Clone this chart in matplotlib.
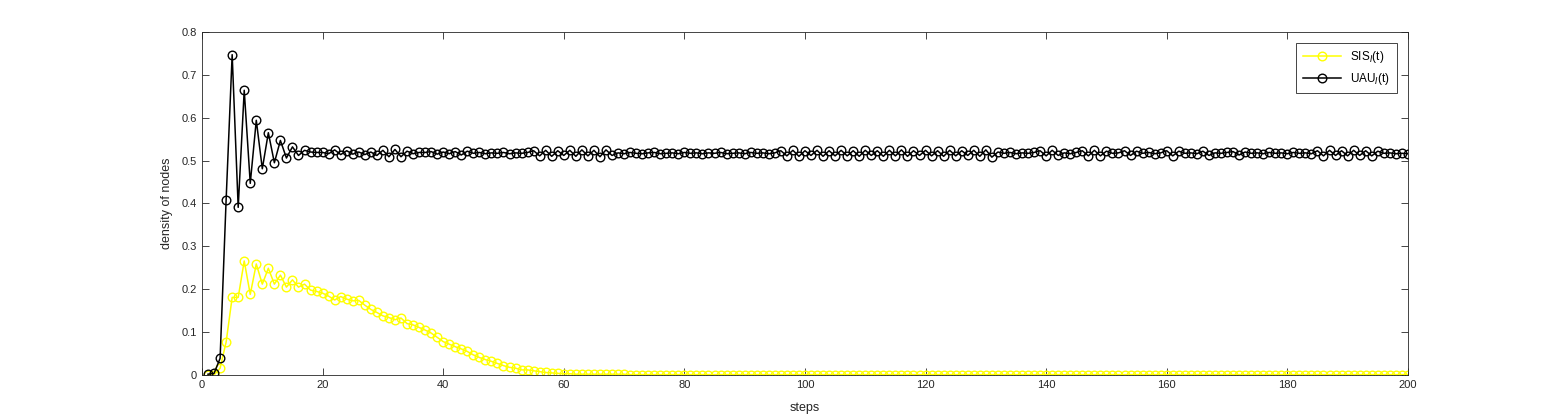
import matplotlib
matplotlib.use("Agg")
import matplotlib.pyplot as plt
import numpy as np
from matplotlib.ticker import FormatStrFormatter

steps = np.arange(1, 201)

# UAU_I(t) density
uau = [
    0.002, 0.004, 0.039, 0.409, 0.747, 0.391, 0.664, 0.447, 0.594, 0.481,
    0.565, 0.495, 0.547, 0.506, 0.532, 0.512, 0.524, 0.520, 0.519, 0.519,
    0.516, 0.525, 0.514, 0.523, 0.515, 0.520, 0.514, 0.520, 0.512, 0.524,
    0.509, 0.526, 0.509, 0.522, 0.516, 0.519, 0.519, 0.521, 0.515, 0.520,
    0.516, 0.521, 0.513, 0.522, 0.517, 0.519, 0.516, 0.518, 0.517, 0.519,
    0.516, 0.518, 0.517, 0.519, 0.523, 0.511, 0.524, 0.510, 0.523, 0.512,
    0.524, 0.510, 0.525, 0.511, 0.524, 0.509, 0.525, 0.512, 0.518, 0.516,
    0.519, 0.517, 0.516, 0.518, 0.519, 0.516, 0.517, 0.518, 0.516, 0.519,
    0.517, 0.518, 0.516, 0.518, 0.517, 0.519, 0.516, 0.517, 0.518, 0.516,
    0.519, 0.517, 0.518, 0.516, 0.518, 0.523, 0.511, 0.524, 0.510, 0.523,
    0.512, 0.524, 0.510, 0.523, 0.511, 0.524, 0.511, 0.523, 0.510, 0.524,
    0.512, 0.523, 0.510, 0.524, 0.511, 0.525, 0.510, 0.523, 0.512, 0.524,
    0.511, 0.523, 0.510, 0.524, 0.511, 0.523, 0.512, 0.524, 0.510, 0.525,
    0.508, 0.520, 0.517, 0.519, 0.516, 0.518, 0.517, 0.519, 0.523, 0.511,
    0.524, 0.512, 0.518, 0.516, 0.519, 0.523, 0.511, 0.524, 0.511, 0.522,
    0.517, 0.518, 0.523, 0.512, 0.522, 0.517, 0.519, 0.516, 0.518, 0.523,
    0.511, 0.522, 0.517, 0.518, 0.516, 0.522, 0.512, 0.518, 0.517, 0.519,
    0.521, 0.513, 0.520, 0.517, 0.518, 0.516, 0.519, 0.517, 0.518, 0.516,
    0.519, 0.517, 0.518, 0.516, 0.523, 0.511, 0.524, 0.512, 0.523, 0.511,
    0.524, 0.512, 0.523, 0.511, 0.522, 0.517, 0.518, 0.516, 0.517, 0.516,
]

# SIS_I(t) density
sis_head = [
    0.000, 0.000, 0.016, 0.077, 0.181, 0.181, 0.266, 0.188, 0.259, 0.212,
    0.249, 0.212, 0.233, 0.205, 0.222, 0.205, 0.212, 0.198, 0.195, 0.191,
    0.184, 0.175, 0.183, 0.177, 0.173, 0.174, 0.163, 0.153, 0.146, 0.138,
    0.134, 0.129, 0.133, 0.120, 0.117, 0.111, 0.105, 0.098, 0.088, 0.078,
    0.072, 0.066, 0.061, 0.055, 0.047, 0.041, 0.036, 0.032, 0.027, 0.022,
    0.018, 0.016, 0.012, 0.012, 0.010, 0.008, 0.006, 0.005, 0.004, 0.003,
    0.003, 0.002, 0.002, 0.002, 0.002, 0.002, 0.002, 0.002, 0.002, 0.002,
]
sis_tail = [0.001] * (200 - len(sis_head))
sis = sis_head + sis_tail

axcol = (0.15, 0.15, 0.15)
plt.rcParams['font.family'] = ['Liberation Sans', 'DejaVu Sans']

fig = plt.figure(figsize=(15.48, 4.2), dpi=100)
ax = fig.add_axes([0.1305, 0.107, 0.779, 0.817])

ax.plot(steps, sis, color=(1, 1, 0), marker='o', markersize=6.2,
        markerfacecolor='none', linewidth=1.1, label=r'SIS$_I$(t)')
ax.plot(steps, uau, color='black', marker='o', markersize=6.2,
        markerfacecolor='none', linewidth=1.1, label=r'UAU$_I$(t)')

ax.set_xlim(0, 200)
ax.set_ylim(0, 0.8)
ax.set_xticks(np.arange(0, 201, 20))
ax.set_yticks(np.arange(0, 0.81, 0.1))
ax.yaxis.set_major_formatter(FormatStrFormatter('%g'))
ax.tick_params(direction='in', top=True, right=True, labelsize=8,
               colors=axcol, length=5, width=0.6)
for s in ax.spines.values():
    s.set_color(axcol)
    s.set_linewidth(0.6)

ax.set_xlabel('steps', fontsize=9, color=axcol, labelpad=9)
ax.set_ylabel('density of nodes', fontsize=9, color=axcol, labelpad=6)

leg = ax.legend(loc='upper right', bbox_to_anchor=(0.9955, 0.985), fontsize=8.5,
                fancybox=False, edgecolor=axcol, framealpha=1,
                handlelength=3.2, borderpad=0.55, labelspacing=0.45)
leg.get_frame().set_linewidth(0.6)

fig.savefig('out.png', dpi=100)
